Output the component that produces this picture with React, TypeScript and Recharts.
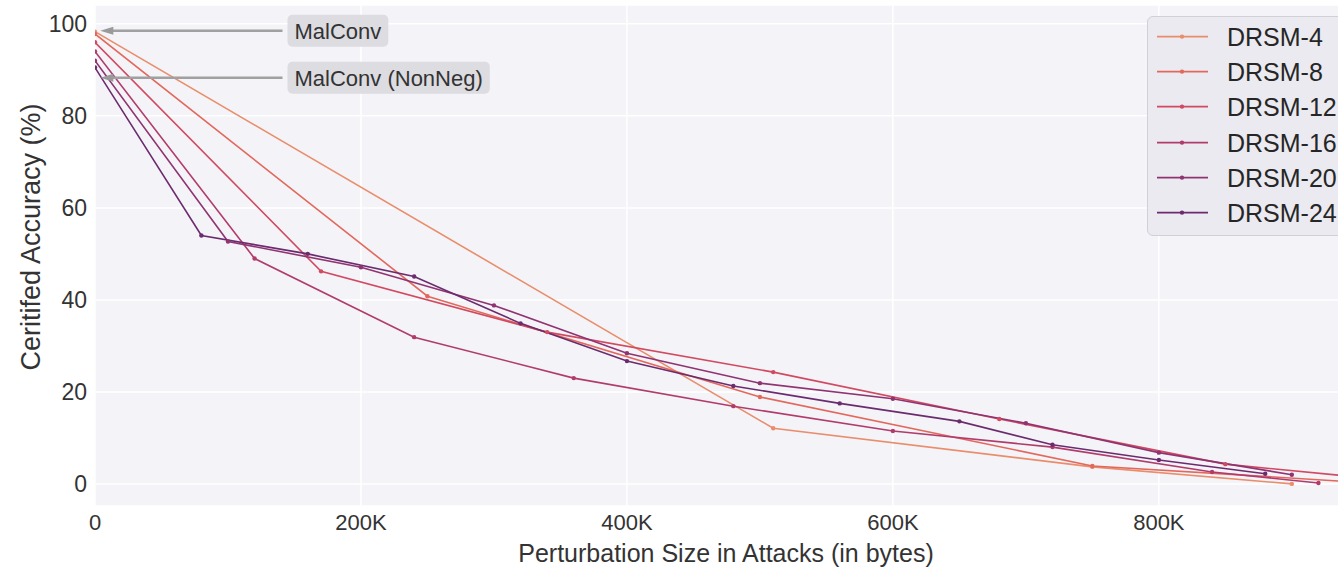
import React from "react";
import {
  LineChart,
  Line,
  XAxis,
  YAxis,
  CartesianGrid,
  Legend,
  ReferenceLine,
  ReferenceDot,
} from "recharts";

// series, in legend order
const seriesNames = ["DRSM-4", "DRSM-8", "DRSM-12", "DRSM-16", "DRSM-20", "DRSM-24"];
const seriesColors = ["#e98d6b", "#e3685c", "#d14a61", "#b13c6c", "#8f3371", "#6c2b6d"];

// perturbation size (bytes) / certified accuracy (%) per series
const drsm4Bytes = [0, 510000, 750000, 900000];
const drsm4Acc = [98.3, 12.1, 3.7, 0];

const drsm8Bytes = [0, 250000, 500000, 750000, 1000000];
const drsm8Acc = [97.8, 40.8, 18.9, 3.9, -0.5];

const drsm12Bytes = [0, 170000, 340000, 510000, 680000, 850000, 1020000];
const drsm12Acc = [96, 46.2, 33, 24.3, 14.1, 4.3, -0.5];

const drsm16Bytes = [0, 120000, 240000, 360000, 480000, 600000, 720000, 840000, 920000];
const drsm16Acc = [94, 49, 31.9, 23, 16.9, 11.5, 8.0, 2.6, 0.2];

const drsm20Bytes = [0, 100000, 200000, 300000, 400000, 500000, 600000, 700000, 800000, 900000];
const drsm20Acc = [92, 52.7, 47.1, 38.8, 28.4, 21.9, 18.5, 13.2, 6.8, 2.0];

const drsm24Bytes = [0, 80000, 160000, 240000, 320000, 400000, 480000, 560000, 650000, 720000, 800000, 880000];
const drsm24Acc = [90.5, 54, 50, 45.1, 34.9, 26.7, 21.3, 17.5, 13.6, 8.5, 5.2, 2.2];

const seriesBytes = [drsm4Bytes, drsm8Bytes, drsm12Bytes, drsm16Bytes, drsm20Bytes, drsm24Bytes];
const seriesAcc = [drsm4Acc, drsm8Acc, drsm12Acc, drsm16Acc, drsm20Acc, drsm24Acc];

// axis ticks
const xTicks = [0, 200000, 400000, 600000, 800000];
const yTicks = [0, 20, 40, 60, 80, 100];

// annotations
const annotationLabels = ["MalConv", "MalConv (NonNeg)"];
const annotationAcc = [98.5, 88.3];
const arrowTipBytes = 4000;
const arrowTailBytes = 141000;

const FONT = "'Liberation Sans', Arial, Helvetica, sans-serif";
const TEXT = "#333333";

const series = seriesNames.map((name, i) => ({
  name,
  color: seriesColors[i],
  data: seriesBytes[i].map((b, j) => ({ bytes: b, acc: seriesAcc[i][j] })),
}));

function measure(text: string, size: number) {
  const ctx = document.createElement("canvas").getContext("2d");
  if (!ctx) return text.length * size * 0.55;
  ctx.font = `${size}px ${FONT}`;
  return ctx.measureText(text).width;
}

const ArrowHead = (props: any) => {
  const { cx, cy } = props;
  return <polygon points={`${cx},${cy} ${cx + 13},${cy - 4} ${cx + 13},${cy + 4}`} fill="#9a9a9a" />;
};

const makeBox = (text: string) => (props: any) => {
  const { cx, cy } = props;
  const w = measure(text, 22) + 14;
  return (
    <g>
      <rect x={cx + 5} y={cy - 16} width={w} height={32} rx={5} fill="#dcdce1" />
      <text x={cx + 12} y={cy + 1} dominantBaseline="central" fontSize={22} fill={TEXT} fontFamily={FONT}>
        {text}
      </text>
    </g>
  );
};

const LegendBox = () => (
  <div
    style={{
      position: "relative",
      width: 230,
      height: 218,
      background: "#eaeaf0",
      border: "1px solid #d0d0d6",
      borderRadius: 6,
      fontFamily: FONT,
    }}
  >
    {series.map((s, i) => (
      <div key={s.name} style={{ position: "absolute", left: 0, top: 2 + i * 35.2, height: 35.2, width: 230 }}>
        <svg width={70} height={36} style={{ position: "absolute", left: 0, top: 0 }}>
          <line x1={9} x2={60} y1={17.6} y2={17.6} stroke={s.color} strokeWidth={1.6} />
          <circle cx={34} cy={17.6} r={2.2} fill={s.color} />
        </svg>
        <span style={{ position: "absolute", left: 79, top: 3, fontSize: 25, lineHeight: "30px", color: "#262626" }}>
          {s.name}
        </span>
      </div>
    ))}
  </div>
);

const YLabel = () => (
  <text
    x={31}
    y={237}
    transform="rotate(-90 31 237)"
    textAnchor="middle"
    dominantBaseline="central"
    fontSize={27}
    fill={TEXT}
    fontFamily={FONT}
  >
    Ceritifed Accuracy (%)
  </text>
);

export default function App() {
  return (
    <div style={{ position: "absolute", left: 0, top: 0, width: 1338, height: 570, overflow: "hidden", background: "#fff" }}>
      <LineChart width={1360} height={570} margin={{ top: 5, right: 3, left: 0, bottom: 0 }}>
        <CartesianGrid fill="#f3f3f8" stroke="#ffffff" strokeWidth={1.5} />
        <XAxis
          type="number"
          dataKey="bytes"
          domain={[0, 949000]}
          ticks={xTicks}
          allowDataOverflow
          tickFormatter={(v: number) => (v === 0 ? "0" : `${v / 1000}K`)}
          axisLine={false}
          tickLine={false}
          height={64}
          tick={{ fontSize: 22, fill: TEXT, fontFamily: FONT }}
          label={{
            value: "Perturbation Size in Attacks (in bytes)",
            position: "insideBottom",
            offset: 8,
            fontSize: 25,
            fill: TEXT,
            fontFamily: FONT,
          }}
        />
        <YAxis
          type="number"
          domain={[-4.8, 104.1]}
          ticks={yTicks}
          allowDataOverflow
          axisLine={false}
          tickLine={false}
          width={95}
          tick={{ fontSize: 23, fill: TEXT, fontFamily: FONT }}
          label={{ content: YLabel }}
        />
        <Legend
          layout="vertical"
          align="center"
          verticalAlign="middle"
          content={() => <LegendBox />}
          wrapperStyle={{ left: 1147, top: 16, width: 232, height: 220 }}
        />
        {series.map((s) => (
          <Line
            key={s.name}
            data={s.data}
            dataKey="acc"
            name={s.name}
            type="linear"
            stroke={s.color}
            strokeWidth={1.6}
            dot={{ r: 2.2, fill: s.color, stroke: s.color, strokeWidth: 0 }}
            activeDot={false}
            isAnimationActive={false}
          />
        ))}
        {annotationLabels.map((label, i) => (
          <ReferenceLine
            key={`shaft-${label}`}
            segment={[
              { x: arrowTailBytes, y: annotationAcc[i] },
              { x: arrowTipBytes + 8000, y: annotationAcc[i] },
            ]}
            stroke="#a0a0a0"
            strokeWidth={2.5}
          />
        ))}
        {annotationLabels.map((label, i) => (
          <ReferenceDot key={`head-${label}`} x={arrowTipBytes} y={annotationAcc[i]} shape={ArrowHead} />
        ))}
        {annotationLabels.map((label, i) => (
          <ReferenceDot key={`box-${label}`} x={arrowTailBytes} y={annotationAcc[i]} shape={makeBox(label)} />
        ))}
      </LineChart>
    </div>
  );
}
